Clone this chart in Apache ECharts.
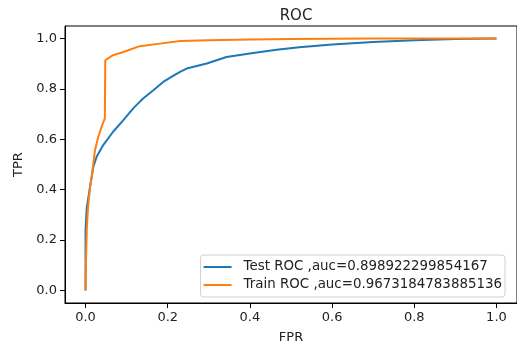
<!DOCTYPE html>
<html>
<head>
<meta charset="utf-8">
<script src="https://cdn.jsdelivr.net/npm/echarts@6/dist/echarts.min.js"></script>
<style>
  html, body { margin: 0; padding: 0; background: #fff; }
  #chart { width: 517px; height: 349px; }
</style>
</head>
<body>
<div id="chart"></div>
<script>
// ROC curve points
const testFpr = [0, 0, 0.003, 0.007, 0.011, 0.019, 0.027, 0.043, 0.067, 0.092, 0.116, 0.14, 0.165, 0.189, 0.213, 0.23, 0.246, 0.295, 0.343, 0.408, 0.465, 0.52, 0.6, 0.7, 0.8, 0.9, 1.0];
const testTpr = [0, 0.24, 0.33, 0.37, 0.412, 0.491, 0.531, 0.577, 0.63, 0.676, 0.723, 0.762, 0.795, 0.828, 0.852, 0.868, 0.881, 0.901, 0.927, 0.943, 0.956, 0.966, 0.977, 0.986, 0.993, 0.998, 1.0];

const trainFpr = [0, 0.001, 0.003, 0.006, 0.011, 0.015, 0.019, 0.023, 0.031, 0.039, 0.047, 0.048, 0.067, 0.092, 0.132, 0.181, 0.23, 0.3, 0.4, 0.5, 0.7, 1.0];
const trainTpr = [0, 0.11, 0.24, 0.33, 0.41, 0.45, 0.505, 0.557, 0.61, 0.65, 0.683, 0.914, 0.934, 0.947, 0.97, 0.98, 0.99, 0.993, 0.996, 0.998, 1.0, 1.0];

const seriesNames = ["Test ROC ,auc=0.898922299854167", "Train ROC ,auc=0.9673184783885136"];
const tickValues = [0, 0.2, 0.4, 0.6, 0.8, 1.0];

const zip = (xs, ys) => xs.map((x, i) => [x, ys[i]]);

const font = "DejaVu Sans";
const chart = echarts.init(document.getElementById("chart"));

const axisCommon = {
    type: "value",
    min: -0.05,
    max: 1.05,
    splitLine: { show: false },
    axisLine: { show: true, onZero: false, lineStyle: { color: "#000", width: 1 } },
    axisTick: { show: true, length: 5, customValues: tickValues, lineStyle: { color: "#000" } },
    axisLabel: {
        customValues: tickValues,
        formatter: (v) => v.toFixed(1),
        color: "#222",
        fontFamily: font,
        fontSize: 13,
        margin: 8,
    },
    nameLocation: "middle",
    nameTextStyle: { color: "#222", fontFamily: font, fontSize: 13 },
};

const option = {
    animation: false,
    title: {
        text: "ROC",
        left: 291,
        textAlign: "center",
        top: 4,
        textStyle: { color: "#222", fontFamily: font, fontSize: 15, fontWeight: "normal" },
    },
    grid: {
        left: 65,
        right: 0,
        top: 26,
        bottom: 46,
        show: true,
        borderColor: "#000",
        borderWidth: 1,
    },
    xAxis: { ...axisCommon, name: "FPR", nameGap: 28 },
    yAxis: { ...axisCommon, name: "TPR", nameGap: 40 },
    legend: {
        orient: "vertical",
        right: 12,
        bottom: 52,
        padding: [5, 3, 5, 3],
        itemGap: 4,
        itemWidth: 30,
        itemHeight: 2,
        icon: "path://M0,0L28,0L28,2L0,2Z",
        borderColor: "#d0d0d0",
        borderWidth: 1,
        borderRadius: 3,
        textStyle: { color: "#222", fontFamily: font, fontSize: 13.4, lineHeight: 14, padding: [0, 0, 0, 6] },
        data: seriesNames,
    },
    series: [
        {
            name: seriesNames[0],
            type: "line",
            symbol: "none",
            data: zip(testFpr, testTpr),
            lineStyle: { color: "#1f77b4", width: 2 },
            itemStyle: { color: "#1f77b4" },
        },
        {
            name: seriesNames[1],
            type: "line",
            symbol: "none",
            data: zip(trainFpr, trainTpr),
            lineStyle: { color: "#ff7f0e", width: 2 },
            itemStyle: { color: "#ff7f0e" },
        },
    ],
};

chart.setOption(option);
</script>
</body>
</html>
